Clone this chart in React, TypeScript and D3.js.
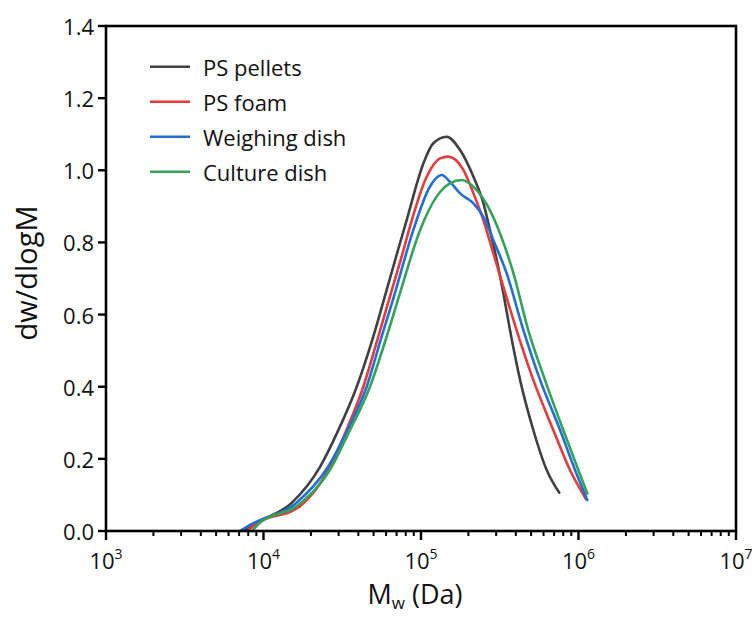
import React from 'react';
import * as d3 from 'd3';

const seriesNames = ['PS pellets', 'PS foam', 'Weighing dish', 'Culture dish'];
const seriesColors = ['#404040', '#e8393b', '#1f6fd6', '#34a35a'];

// log10(Mw) and dw/dlogM
const pelletsLogMw = [3.870, 3.946, 4.179, 4.359, 4.465, 4.592, 4.697, 4.770, 4.854, 4.909, 5.015, 5.078, 5.163, 5.248, 5.333, 5.396, 5.438, 5.481, 5.523, 5.565, 5.629, 5.713, 5.798, 5.878];
const pelletsValue = [0, 0.021, 0.078, 0.178, 0.270, 0.400, 0.539, 0.650, 0.779, 0.862, 1.019, 1.075, 1.093, 1.056, 0.982, 0.909, 0.834, 0.751, 0.659, 0.557, 0.419, 0.280, 0.169, 0.106];

const foamLogMw = [3.895, 3.957, 4.232, 4.422, 4.517, 4.634, 4.729, 4.803, 4.889, 4.930, 5.036, 5.121, 5.173, 5.269, 5.333, 5.396, 5.459, 5.523, 5.607, 5.713, 5.840, 5.946, 6.048];
const foamValue = [0, 0.021, 0.069, 0.178, 0.270, 0.400, 0.539, 0.650, 0.779, 0.844, 0.982, 1.033, 1.038, 1.001, 0.936, 0.862, 0.770, 0.677, 0.557, 0.419, 0.280, 0.169, 0.088];

const weighingLogMw = [3.851, 3.933, 4.200, 4.410, 4.528, 4.655, 4.750, 4.828, 4.951, 5.057, 5.131, 5.184, 5.248, 5.333, 5.396, 5.459, 5.544, 5.650, 5.756, 5.883, 5.978, 6.056];
const weighingValue = [0, 0.021, 0.075, 0.178, 0.275, 0.400, 0.539, 0.650, 0.834, 0.955, 0.987, 0.968, 0.936, 0.908, 0.871, 0.807, 0.714, 0.557, 0.419, 0.280, 0.169, 0.086];

const cultureLogMw = [3.927, 3.973, 4.221, 4.433, 4.538, 4.676, 4.782, 4.867, 4.994, 5.099, 5.184, 5.258, 5.353, 5.438, 5.502, 5.587, 5.681, 5.787, 5.903, 5.999, 6.056];
const cultureValue = [0, 0.021, 0.072, 0.178, 0.270, 0.400, 0.539, 0.660, 0.834, 0.927, 0.964, 0.973, 0.945, 0.889, 0.825, 0.714, 0.557, 0.419, 0.280, 0.169, 0.104];

const seriesLogMw = [pelletsLogMw, foamLogMw, weighingLogMw, cultureLogMw];
const seriesValues = [pelletsValue, foamValue, weighingValue, cultureValue];

const xTickExponents = [3, 4, 5, 6, 7];
const yTicks = [0, 0.2, 0.4, 0.6, 0.8, 1.0, 1.2, 1.4];

const FONT = '"Open Sans", "Noto Sans", sans-serif';

export default function App() {
  const W = 755;
  const H = 617;
  const L = 106, R = 736, T = 26, B = 531;
  const x = d3.scaleLog().domain([1e3, 1e7]).range([L, R]);
  const y = d3.scaleLinear().domain([0, 1.4]).range([B, T]);

  const line = d3
    .line<[number, number]>()
    .x((d) => x(Math.pow(10, d[0])))
    .y((d) => y(d[1]))
    .curve(d3.curveMonotoneX);

  const minorTicks: number[] = [];
  for (let e = 3; e < 7; e++) {
    for (let k = 2; k <= 9; k++) minorTicks.push(k * Math.pow(10, e));
  }

  return (
    <svg
      width={W}
      height={H}
      style={{ position: 'absolute', left: 0, top: 0, background: '#fff' }}
      fontFamily={FONT}
    >
      <rect x={0} y={0} width={W} height={H} fill="#fff" />
      {/* curves */}
      <g fill="none" strokeWidth={2.6} strokeLinejoin="round" strokeLinecap="round">
        {seriesLogMw.map((lm, i) => {
          const pts = lm.map((v, j) => [v, seriesValues[i][j]] as [number, number]);
          return <path key={i} d={line(pts) || ''} stroke={seriesColors[i]} />;
        })}
      </g>
      {/* frame */}
      <rect x={L} y={T} width={R - L} height={B - T} fill="none" stroke="#000" strokeWidth={2.6} />
      {/* y ticks */}
      <g>
        {yTicks.map((t) => (
          <g key={t}>
            <line x1={L - 8} x2={L} y1={y(t)} y2={y(t)} stroke="#000" strokeWidth={2.4} />
            <text x={L - 12} y={y(t)} textAnchor="end" dominantBaseline="central" fontSize={22} fill="#111">
              {t.toFixed(1)}
            </text>
          </g>
        ))}
      </g>
      {/* x ticks */}
      <g>
        {minorTicks.map((t, i) => (
          <line key={i} x1={x(t)} x2={x(t)} y1={B} y2={B + 5} stroke="#000" strokeWidth={2} />
        ))}
        {xTickExponents.map((e) => (
          <g key={e}>
            <line x1={x(Math.pow(10, e))} x2={x(Math.pow(10, e))} y1={B} y2={B + 9} stroke="#000" strokeWidth={2.4} />
            <text x={x(Math.pow(10, e))} y={569} textAnchor="middle" fontSize={22} fill="#111">
              10
              <tspan fontSize={14} dy={-10}>
                {e}
              </tspan>
            </text>
          </g>
        ))}
      </g>
      {/* axis titles */}
      <text x={(L + R) / 2 - 6} y={604} textAnchor="middle" fontSize={27} fill="#111">
        M
        <tspan fontSize={17} dy={5}>w</tspan>
        <tspan dy={-5}> (Da)</tspan>
      </text>
      <text transform={`translate(37, 273) rotate(-90)`} textAnchor="middle" fontSize={29} fill="#111">
        dw/dlogM
      </text>
      {/* legend */}
      <g>
        {seriesNames.map((n, i) => (
          <g key={n} transform={`translate(150, ${66.7 + i * 35})`}>
            <line x1={0} x2={40} y1={0} y2={0} stroke={seriesColors[i]} strokeWidth={2.6} />
            <text x={53} y={0} dominantBaseline="central" fontSize={22} fill="#111">
              {n}
            </text>
          </g>
        ))}
      </g>
    </svg>
  );
}
